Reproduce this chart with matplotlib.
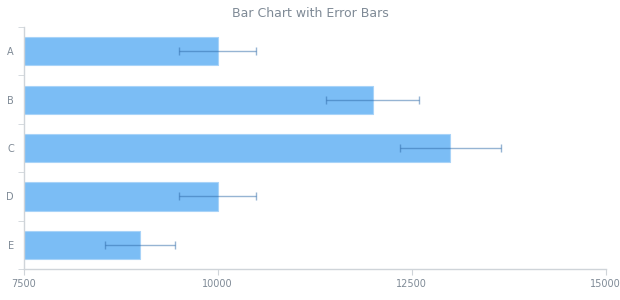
import numpy as np
import matplotlib.pyplot as plt

categories = ['A', 'B', 'C', 'D', 'E']
values = [10000, 12000, 13000, 10000, 9000]
errors = [500, 600, 650, 500, 450]

grey = '#7f8a96'
fig = plt.figure(figsize=(6.2, 3.0), dpi=100)
ax = fig.add_axes([0.038, 0.103, 0.939, 0.807])

y = np.arange(len(categories))
ax.barh(y, values, height=0.58, left=0, color='#7bbdf5', edgecolor='#a8d3f8', linewidth=0.8)
ax.errorbar(values, y, xerr=errors, fmt='none', ecolor='#2e6aa8', alpha=0.5,
            elinewidth=1.0, capsize=3, capthick=1.0)

ax.set_xlim(7500, 15000)
ax.set_ylim(len(categories) - 0.5, -0.5)
ax.set_xticks([7500, 10000, 12500, 15000])
ax.set_xticklabels(['7500', '10000', '12500', '15000'])
ax.set_yticks(y)
ax.set_yticklabels(categories)
ax.set_yticks(np.arange(-0.5, len(categories)), minor=True)

for s in ['top', 'right']:
    ax.spines[s].set_visible(False)
for s in ['left', 'bottom']:
    ax.spines[s].set_color('#cfd4d9')
    ax.spines[s].set_linewidth(1.0)

ax.tick_params(axis='x', colors='#cfd4d9', labelcolor=grey, labelsize=7, length=4, pad=3)
ax.tick_params(axis='y', which='major', length=0, labelcolor=grey, labelsize=7, pad=7)
ax.tick_params(axis='y', which='minor', colors='#cfd4d9', length=4)

fig.text(0.5, 0.955, 'Bar Chart with Error Bars', ha='center', va='center', color=grey, fontsize=9)

fig.savefig('out.png', dpi=100)
